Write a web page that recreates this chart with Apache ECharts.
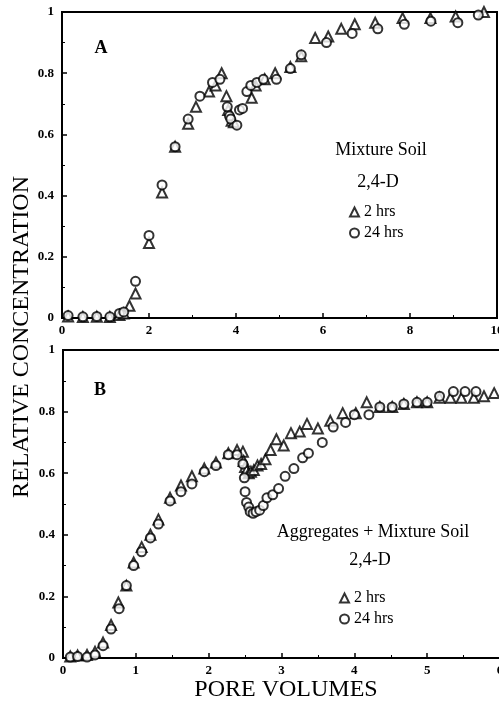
<!DOCTYPE html>
<html>
<head>
<meta charset="UTF-8">
<title>Relative concentration vs pore volumes</title>
<script src="https://cdn.jsdelivr.net/npm/echarts@6/dist/echarts.min.js"></script>
<style>
    body { margin: 0; padding: 0; background: #fff; }
    #main { width: 499px; height: 705px; }
</style>
</head>
<body>
<div id="main"></div>
<script>
// panel A: Mixture Soil, 2,4-D  [pore volumes, relative concentration]
var a2hrs = [
    [0.14, 0.005], [0.48, 0.003], [0.8, 0.004], [1.1, 0.003], [1.32, 0.01], [1.42, 0.015],
    [1.55, 0.04], [1.69, 0.08], [2.0, 0.245], [2.3, 0.41], [2.6, 0.56], [2.9, 0.635],
    [3.08, 0.69], [3.38, 0.74], [3.53, 0.76], [3.67, 0.8], [3.78, 0.725], [3.82, 0.68],
    [3.9, 0.645], [3.95, 0.64], [4.36, 0.72], [4.45, 0.76], [4.66, 0.78], [4.9, 0.8],
    [5.25, 0.82], [5.5, 0.855], [5.82, 0.915], [6.12, 0.92], [6.42, 0.945], [6.73, 0.96],
    [7.2, 0.965], [7.83, 0.98], [8.47, 0.98], [9.05, 0.985], [9.7, 1.0]
];
var a24hrs = [
    [0.14, 0.008], [0.48, 0.004], [0.8, 0.005], [1.1, 0.004], [1.32, 0.015], [1.42, 0.02],
    [1.69, 0.12], [2.0, 0.27], [2.3, 0.435], [2.6, 0.56], [2.9, 0.65], [3.17, 0.725],
    [3.46, 0.77], [3.63, 0.78], [3.8, 0.69], [3.85, 0.66], [3.88, 0.65], [4.02, 0.63],
    [4.08, 0.68], [4.15, 0.685], [4.25, 0.74], [4.34, 0.76], [4.48, 0.77], [4.63, 0.78],
    [4.93, 0.78], [5.25, 0.815], [5.5, 0.86], [6.08, 0.9], [6.67, 0.93], [7.26, 0.945],
    [7.87, 0.96], [8.48, 0.97], [9.1, 0.965], [9.57, 0.99]
];

// panel B: Aggregates + Mixture Soil, 2,4-D
var b2hrs = [
    [0.1, 0.005], [0.2, 0.008], [0.33, 0.01], [0.44, 0.02], [0.55, 0.05], [0.66, 0.107],
    [0.76, 0.18], [0.87, 0.235], [0.97, 0.31], [1.08, 0.36], [1.2, 0.4], [1.31, 0.45],
    [1.47, 0.52], [1.62, 0.56], [1.77, 0.59], [1.94, 0.615], [2.1, 0.635], [2.27, 0.665],
    [2.39, 0.675], [2.47, 0.67], [2.48, 0.64], [2.5, 0.62], [2.52, 0.61], [2.55, 0.6],
    [2.58, 0.605], [2.62, 0.61], [2.67, 0.625], [2.72, 0.63], [2.78, 0.645], [2.85, 0.675],
    [2.93, 0.71], [3.03, 0.69], [3.13, 0.73], [3.25, 0.735], [3.35, 0.76], [3.5, 0.745],
    [3.67, 0.77], [3.84, 0.795], [4.02, 0.795], [4.17, 0.83], [4.35, 0.815], [4.52, 0.815],
    [4.68, 0.825], [4.86, 0.83], [5.0, 0.83], [5.17, 0.845], [5.32, 0.845], [5.47, 0.845],
    [5.64, 0.845], [5.78, 0.85], [5.92, 0.86]
];
var b24hrs = [
    [0.1, 0.003], [0.2, 0.005], [0.33, 0.003], [0.44, 0.01], [0.55, 0.04], [0.66, 0.094],
    [0.77, 0.16], [0.87, 0.235], [0.97, 0.3], [1.08, 0.345], [1.2, 0.39], [1.31, 0.435],
    [1.47, 0.51], [1.62, 0.54], [1.77, 0.565], [1.94, 0.605], [2.1, 0.625], [2.27, 0.66],
    [2.39, 0.66], [2.47, 0.63], [2.49, 0.585], [2.5, 0.54], [2.52, 0.505], [2.55, 0.49],
    [2.57, 0.475], [2.61, 0.47], [2.65, 0.475], [2.7, 0.48], [2.75, 0.495], [2.8, 0.52],
    [2.88, 0.53], [2.96, 0.55], [3.05, 0.59], [3.17, 0.615], [3.29, 0.65], [3.37, 0.665],
    [3.56, 0.7], [3.71, 0.75], [3.88, 0.765], [4.0, 0.79], [4.2, 0.79], [4.35, 0.815],
    [4.52, 0.815], [4.68, 0.825], [4.86, 0.83], [5.0, 0.83], [5.17, 0.85], [5.36, 0.865],
    [5.52, 0.865], [5.67, 0.865]
];

var serif = '"Liberation Serif", "DejaVu Serif", serif';

var chart = echarts.init(document.getElementById('main'));

// common axis look: black frame, inward ticks
function xAxis(gridIndex, max, interval) {
    return {
        type: 'value', gridIndex: gridIndex, min: 0, max: max, interval: interval,
        splitLine: { show: false },
        axisLine: { lineStyle: { color: '#000', width: 2 } },
        axisTick: { inside: true, length: 5, lineStyle: { color: '#000', width: 1.5 } },
        minorTick: { show: true, splitNumber: 2, length: 3, lineStyle: { color: '#000' } },
        axisLabel: { color: '#000', fontFamily: serif, fontWeight: 'bold', fontSize: 13, margin: 6,
            showMaxLabel: true }
    };
}
function yAxis(gridIndex) {
    return {
        type: 'value', gridIndex: gridIndex, min: 0, max: 1, interval: 0.2,
        splitLine: { show: false },
        axisLine: { lineStyle: { color: '#000', width: 2 } },
        axisTick: { inside: true, length: 5, lineStyle: { color: '#000', width: 1.5 } },
        minorTick: { show: true, splitNumber: 2, length: 3, lineStyle: { color: '#000' } },
        axisLabel: { color: '#000', fontFamily: serif, fontWeight: 'bold', fontSize: 13, margin: 8 }
    };
}

var triStyle = { color: '#fff', borderColor: '#000', borderWidth: 2 };
var circStyle = { color: '#fff', borderColor: '#000', borderWidth: 2 };

var legendText = { color: '#000', fontFamily: serif, fontSize: 16 };

var option = {
    animation: false,
    backgroundColor: '#fff',
    grid: [
        { left: 62, top: 12, width: 435, height: 306, show: true, borderColor: '#000', borderWidth: 2,
          outerBoundsMode: 'none' },
        { left: 63, top: 350, width: 437, height: 308, show: true, borderColor: '#000', borderWidth: 2,
          outerBoundsMode: 'none' }
    ],
    xAxis: [xAxis(0, 10, 2), xAxis(1, 6, 1)],
    yAxis: [yAxis(0), yAxis(1)],
    legend: [
        {
            data: ['2 hrs', '24 hrs'], orient: 'vertical', left: 344, top: 199,
            itemWidth: 9, itemHeight: 9, itemGap: 5, textStyle: legendText
        },
        {
            data: ['2 hrs', '24 hrs'], orient: 'vertical', left: 334, top: 585,
            itemWidth: 9, itemHeight: 9, itemGap: 5, textStyle: legendText
        }
    ],
    graphic: [
        { type: 'text', x: 22, y: 337, rotation: Math.PI / 2,
          style: { text: 'RELATIVE CONCENTRATION', font: '24px ' + serif, fill: '#000',
                   textAlign: 'center', textVerticalAlign: 'middle' } },
        { type: 'text', x: 286, y: 690,
          style: { text: 'PORE VOLUMES', font: '24px ' + serif, fill: '#000',
                   textAlign: 'center', textVerticalAlign: 'middle' } },
        { type: 'text', x: 101, y: 48,
          style: { text: 'A', font: 'bold 18px ' + serif, fill: '#000',
                   textAlign: 'center', textVerticalAlign: 'middle' } },
        { type: 'text', x: 100, y: 390,
          style: { text: 'B', font: 'bold 18px ' + serif, fill: '#000',
                   textAlign: 'center', textVerticalAlign: 'middle' } },
        { type: 'text', x: 381, y: 150,
          style: { text: 'Mixture Soil', font: '18px ' + serif, fill: '#000',
                   textAlign: 'center', textVerticalAlign: 'middle' } },
        { type: 'text', x: 378, y: 182,
          style: { text: '2,4-D', font: '18px ' + serif, fill: '#000',
                   textAlign: 'center', textVerticalAlign: 'middle' } },
        { type: 'text', x: 373, y: 532,
          style: { text: 'Aggregates + Mixture Soil', font: '18px ' + serif, fill: '#000',
                   textAlign: 'center', textVerticalAlign: 'middle' } },
        { type: 'text', x: 370, y: 560,
          style: { text: '2,4-D', font: '18px ' + serif, fill: '#000',
                   textAlign: 'center', textVerticalAlign: 'middle' } }
    ],
    series: [
        { name: '2 hrs', type: 'scatter', xAxisIndex: 0, yAxisIndex: 0, data: a2hrs,
          symbol: 'triangle', symbolSize: 10, itemStyle: triStyle },
        { name: '24 hrs', type: 'scatter', xAxisIndex: 0, yAxisIndex: 0, data: a24hrs,
          symbol: 'circle', symbolSize: 9, itemStyle: circStyle },
        { name: '2 hrs', type: 'scatter', xAxisIndex: 1, yAxisIndex: 1, data: b2hrs,
          symbol: 'triangle', symbolSize: 10, itemStyle: triStyle },
        { name: '24 hrs', type: 'scatter', xAxisIndex: 1, yAxisIndex: 1, data: b24hrs,
          symbol: 'circle', symbolSize: 9, itemStyle: circStyle }
    ]
};

chart.setOption(option);
</script>
</body>
</html>
